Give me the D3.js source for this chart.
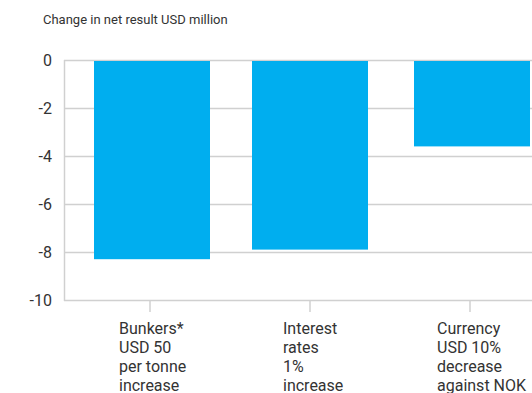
<!DOCTYPE html>
<html><head><meta charset="utf-8">
<script src="https://cdn.jsdelivr.net/npm/d3@7"></script>
<style>html,body{margin:0;padding:0;background:#fff;overflow:hidden}svg{display:block;font-family:Roboto,"Open Sans",sans-serif}</style>
</head><body>
<svg id="c" width="532" height="393"></svg>
<script>
const categories = [
  ["Bunkers*", "USD 50", "per tonne", "increase"],
  ["Interest", "rates", "1%", "increase"],
  ["Currency", "USD 10%", "decrease", "against NOK"]
];
const values = [-8.3, -7.9, -3.6];
const yTicks = [0, -2, -4, -6, -8, -10];
const title = "Change in net result USD million";

(function () {
const svg = d3.select("#c");
const mLeft = 64, mTop = 60, mBottom = 300;
const x = d3.scaleBand().domain(d3.range(categories.length)).range([mLeft, 560]).paddingInner(0.275).paddingOuter(0.1875);
const y = d3.scaleLinear().domain([0, -10]).range([mTop, mBottom]);

svg.append("text").attr("x", 43).attr("y", 24).attr("font-size", 13).attr("fill", "#333").text(title);

// gridlines
svg.append("g").selectAll("line").data(yTicks).join("line")
  .attr("x1", mLeft).attr("x2", 532).attr("y1", d => y(d) + 0.5).attr("y2", d => y(d) + 0.5)
  .attr("stroke", "#d0d0d0").attr("stroke-width", 1.5);
// y axis line
svg.append("line").attr("x1", mLeft + 0.5).attr("x2", mLeft + 0.5).attr("y1", mTop).attr("y2", mBottom + 1)
  .attr("stroke", "#d0d0d0").attr("stroke-width", 1.5);
// y labels
svg.append("g").selectAll("text").data(yTicks).join("text")
  .attr("x", 52).attr("y", d => y(d) + 6).attr("text-anchor", "end")
  .attr("font-size", 16).attr("fill", "#333").text(d => d);

// bars
svg.append("g").selectAll("rect").data(values).join("rect")
  .attr("x", (d, i) => x(i) - (i === 1 ? 2 : 0)).attr("width", x.bandwidth())
  .attr("y", d => y(0) + 1).attr("height", d => y(d) - y(0) - 1)
  .attr("fill", "#00aeef");

// x ticks
svg.append("g").selectAll("line").data(categories).join("line")
  .attr("x1", (d, i) => x(i) + x.bandwidth() / 2 - 2).attr("x2", (d, i) => x(i) + x.bandwidth() / 2 - 2)
  .attr("y1", mBottom + 1).attr("y2", mBottom + 12)
  .attr("stroke", "#d0d0d0").attr("stroke-width", 1.5);

// x labels
const offs = [-33, -29, -35];
const lg = svg.append("g").selectAll("text").data(categories).join("text")
  .attr("font-size", 16).attr("fill", "#333");
lg.each(function(lines, i) {
  const t = d3.select(this);
  const lx = x(i) + x.bandwidth() / 2 + offs[i];
  lines.forEach((s, k) => t.append("tspan").attr("x", lx).attr("y", 334 + k * 19).text(s));
});
})();
</script>
</body></html>
